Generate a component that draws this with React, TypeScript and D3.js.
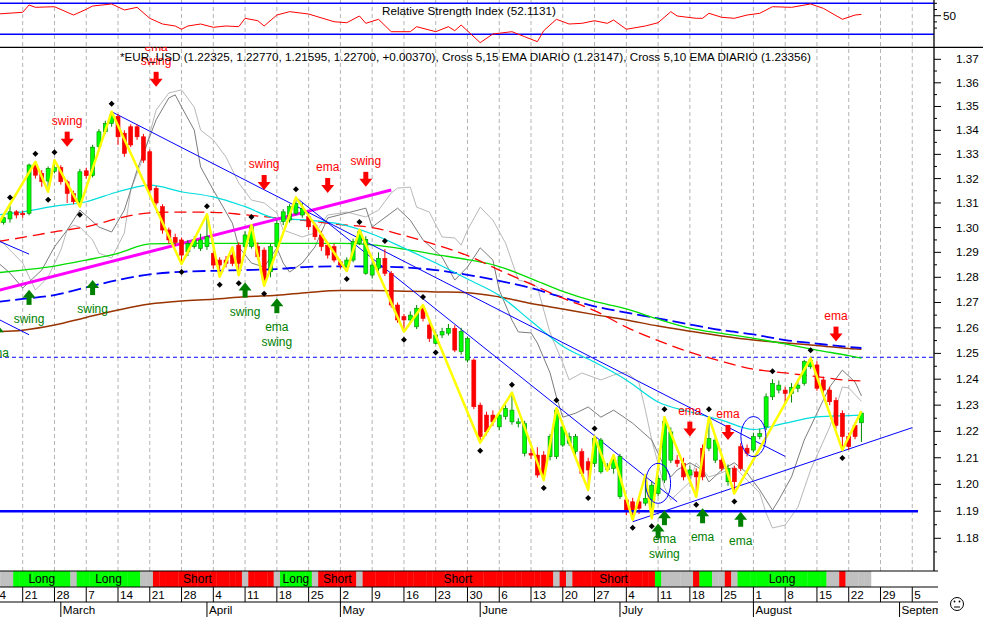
import * as d3 from "d3";

// day 0 = Monday 21 Feb 2005, 5 trading days a week; first candle is day -4
const FIRST_DAY = -4;
const START = new Date(2005, 1, 21);

const opens = [
  1.3035, 1.3020, 1.3035, 1.3064, 1.3058, 1.3058, 1.3256, 1.3221, 1.3190, 1.3230,
  1.3245, 1.3187, 1.3139, 1.3105, 1.3232, 1.3212, 1.3332, 1.3394, 1.3429, 1.3458,
  1.3388, 1.3415, 1.3415, 1.3373, 1.3311, 1.3160, 1.3085, 1.2990, 1.2960, 1.2950,
  1.2902, 1.2923, 1.2916, 1.2923, 1.2896, 1.2869, 1.2869, 1.2889, 1.2929, 1.2923,
  1.2923, 1.2923, 1.2909, 1.2822, 1.2923, 1.3024, 1.3030, 1.3058, 1.3051, 1.3044,
  1.3010, 1.2970, 1.2929, 1.2923, 1.2862, 1.2842, 1.2869, 1.2936, 1.2816, 1.2809,
  1.2836, 1.2876, 1.2816, 1.2690, 1.2644, 1.2631, 1.2604, 1.2677, 1.2611, 1.2539,
  1.2572, 1.2579, 1.2598, 1.2507, 1.2474, 1.2474, 1.2300, 1.2262, 1.2262, 1.2217,
  1.2256, 1.2236, 1.2230, 1.2117, 1.2117, 1.2110, 1.2110, 1.2104, 1.2104, 1.2148,
  1.2155, 1.2123, 1.2123, 1.2085, 1.2079, 1.2047, 1.2055, 1.2060, 1.1954, 1.1942,
  1.1935, 1.1935, 1.1930, 1.1942, 1.1966, 1.2016, 1.2091, 1.2091, 1.2079, 1.2035,
  1.2047, 1.2136, 1.2136, 1.2091, 1.2091, 1.2010, 1.2060, 1.2142, 1.2136, 1.2129,
  1.2180, 1.2217, 1.2332, 1.2358, 1.2358, 1.2345, 1.2365, 1.2384, 1.2448, 1.2455,
  1.2397, 1.2358, 1.2318, 1.2269, 1.2180, 1.2223, 1.22325,
];
const highs = [
  1.3050, 1.3048, 1.3090, 1.3071, 1.3068, 1.3262, 1.3269, 1.3235, 1.3250, 1.3276,
  1.3255, 1.3195, 1.3150, 1.3240, 1.3245, 1.3340, 1.3405, 1.3440, 1.3478, 1.3468,
  1.3400, 1.3425, 1.3425, 1.3385, 1.3320, 1.3170, 1.3095, 1.3000, 1.2975, 1.2960,
  1.2950, 1.2965, 1.2975, 1.3054, 1.2910, 1.2880, 1.2885, 1.2920, 1.2940, 1.2985,
  1.3010, 1.2940, 1.2920, 1.2935, 1.3030, 1.3075, 1.3095, 1.3123, 1.3100, 1.3060,
  1.3020, 1.2985, 1.2940, 1.2935, 1.2870, 1.2880, 1.2955, 1.2990, 1.2965, 1.2860,
  1.2900, 1.2913, 1.2825, 1.2700, 1.2655, 1.2665, 1.2690, 1.2690, 1.2625, 1.2585,
  1.2600, 1.2615, 1.2610, 1.2600, 1.2565, 1.2480, 1.2310, 1.2275, 1.2280, 1.2275,
  1.2300, 1.2348, 1.2250, 1.2240, 1.2135, 1.2140, 1.2125, 1.2190, 1.2288, 1.2230,
  1.2195, 1.2190, 1.2135, 1.2100, 1.2180, 1.2175, 1.2080, 1.2110, 1.2115, 1.1955,
  1.1950, 1.1945, 1.2035, 1.2010, 1.2035, 1.2254, 1.2215, 1.2110, 1.2100, 1.2070,
  1.2060, 1.2150, 1.2254, 1.2180, 1.2100, 1.2075, 1.2070, 1.2155, 1.2150, 1.2195,
  1.2210, 1.2345, 1.2400, 1.2395, 1.2370, 1.2385, 1.2400, 1.2475, 1.2481, 1.2470,
  1.2410, 1.2370, 1.2330, 1.2280, 1.2195, 1.2235, 1.22770,
];
const lows = [
  1.3008, 1.3012, 1.3020, 1.3037, 1.3040, 1.3050, 1.3200, 1.3166, 1.3146, 1.3222,
  1.3175, 1.3100, 1.3095, 1.3085, 1.3200, 1.3205, 1.3320, 1.3385, 1.3415, 1.3339,
  1.3290, 1.3330, 1.3360, 1.3265, 1.3140, 1.3090, 1.2975, 1.2935, 1.2925, 1.2853,
  1.2885, 1.2915, 1.2905, 1.2910, 1.2835, 1.2802, 1.2840, 1.2845, 1.2808, 1.2910,
  1.2915, 1.2870, 1.2766, 1.2800, 1.2910, 1.3010, 1.3020, 1.3050, 1.3040, 1.2990,
  1.2950, 1.2905, 1.2875, 1.2860, 1.2835, 1.2825, 1.2860, 1.2930, 1.2810, 1.2795,
  1.2825, 1.2805, 1.2680, 1.2620, 1.2585, 1.2615, 1.2595, 1.2625, 1.2545, 1.2535,
  1.2560, 1.2570, 1.2505, 1.2495, 1.2465, 1.2285, 1.2157, 1.2185, 1.2220, 1.2205,
  1.2245, 1.2225, 1.2215, 1.2105, 1.2095, 1.2025, 1.2016, 1.2090, 1.2095, 1.2140,
  1.2145, 1.2110, 1.2030, 1.1979, 1.2065, 1.2040, 1.2052, 1.2040, 1.1945, 1.1885,
  1.1868, 1.1890, 1.1920, 1.1874, 1.1955, 1.2005, 1.2080, 1.2065, 1.2015, 1.2020,
  1.1954, 1.2015, 1.2125, 1.2080, 1.2050, 1.1995, 1.1966, 1.2050, 1.2105, 1.2120,
  1.2170, 1.2205, 1.2320, 1.2345, 1.2310, 1.2310, 1.2350, 1.2375, 1.2440, 1.2355,
  1.2345, 1.2300, 1.2210, 1.2129, 1.2130, 1.2170, 1.21595,
];
const closes = [
  1.3020, 1.3040, 1.3064, 1.3051, 1.3052, 1.3256, 1.3214, 1.3187, 1.3242, 1.3245,
  1.3187, 1.3139, 1.3105, 1.3228, 1.3212, 1.3330, 1.3394, 1.3429, 1.3464, 1.3373,
  1.3304, 1.3339, 1.3373, 1.3276, 1.3153, 1.3100, 1.2990, 1.2950, 1.2940, 1.2889,
  1.2936, 1.2950, 1.2950, 1.2963, 1.2849, 1.2849, 1.2856, 1.2856, 1.2856, 1.2970,
  1.3003, 1.2882, 1.2790, 1.2923, 1.3017, 1.3064, 1.3085, 1.3098, 1.3078, 1.3003,
  1.2963, 1.2923, 1.2889, 1.2869, 1.2849, 1.2869, 1.2943, 1.2983, 1.2952, 1.2849,
  1.2876, 1.2816, 1.2690, 1.2631, 1.2631, 1.2650, 1.2677, 1.2637, 1.2559, 1.2572,
  1.2585, 1.2598, 1.2513, 1.2585, 1.2559, 1.2294, 1.2180, 1.2198, 1.2236, 1.2262,
  1.2288, 1.2281, 1.2236, 1.2230, 1.2110, 1.2035, 1.2035, 1.2180, 1.2281, 1.2217,
  1.2180, 1.2180, 1.2041, 1.2054, 1.2173, 1.2167, 1.2065, 1.2091, 1.2104, 1.1898,
  1.1898, 1.1911, 1.1948, 1.1997, 1.2022, 1.2237, 1.2198, 1.2079, 1.2028, 1.2054,
  1.2028, 1.2028, 1.2173, 1.2167, 1.2060, 1.2060, 1.2010, 1.2060, 1.2117, 1.2180,
  1.2192, 1.2332, 1.2384, 1.2377, 1.2345, 1.2368, 1.2377, 1.2468, 1.2474, 1.2365,
  1.2358, 1.2313, 1.2223, 1.2180, 1.2142, 1.2180, 1.22700,
];

// moving averages read at weekly points
const maDays = [-4, 0, 5, 10, 15, 20, 25, 30, 35, 40, 45, 50, 55, 60, 65, 70, 75, 80, 85, 90, 95, 100, 105, 110, 115, 120, 125, 130, 132];
const maCyan = [1.3051, 1.3064, 1.3087, 1.3105, 1.3146, 1.3173, 1.3146, 1.3125, 1.3085, 1.3037, 1.3030, 1.3014, 1.2974, 1.2917, 1.2857, 1.2793, 1.2728, 1.2627, 1.2528, 1.2466, 1.2397, 1.2312, 1.2274, 1.2243, 1.2207, 1.2231, 1.2255, 1.2260, 1.2262];
const maRed = [1.2943, 1.2960, 1.2983, 1.3003, 1.3037, 1.3060, 1.3063, 1.3062, 1.3052, 1.3039, 1.3027, 1.3012, 1.3000, 1.2968, 1.2931, 1.2887, 1.2829, 1.2773, 1.2717, 1.2668, 1.2603, 1.2550, 1.2505, 1.2469, 1.2439, 1.2424, 1.2410, 1.2395, 1.2393];
const maGreen = [1.2818, 1.2829, 1.2845, 1.2869, 1.2896, 1.2934, 1.2936, 1.2936, 1.2936, 1.2936, 1.2936, 1.2936, 1.2930, 1.2913, 1.2891, 1.2871, 1.2843, 1.2795, 1.2744, 1.2704, 1.2675, 1.2634, 1.2599, 1.2578, 1.2559, 1.2537, 1.2513, 1.2491, 1.2481];
const maBlue = [1.2702, 1.2714, 1.2729, 1.2760, 1.2789, 1.2812, 1.2822, 1.2826, 1.2829, 1.2833, 1.2842, 1.2844, 1.2843, 1.2840, 1.2829, 1.2810, 1.2786, 1.2757, 1.2720, 1.2685, 1.2660, 1.2637, 1.2613, 1.2591, 1.2574, 1.2552, 1.2538, 1.2525, 1.2521];
const maBrown = [1.2585, 1.2591, 1.2611, 1.2641, 1.2670, 1.2694, 1.2706, 1.2713, 1.2723, 1.2729, 1.2740, 1.2747, 1.2747, 1.2745, 1.2742, 1.2739, 1.2722, 1.2696, 1.2674, 1.2652, 1.2631, 1.2607, 1.2587, 1.2568, 1.2552, 1.2541, 1.2531, 1.2519, 1.2516];

// Cross 5,10 EMA (dark) and Cross 5,15 EMA (light)
const crossADays = [-4, -2, 0, 3, 5, 7, 9, 12, 14, 16, 18, 21, 23, 24, 25, 27, 28, 30, 33, 34, 36, 38, 40, 41, 42, 44, 46, 48, 54, 55, 59, 61, 63, 66, 68, 70, 72, 74, 75, 77, 78, 80, 81, 83, 84, 85, 87, 89, 91, 93, 96, 99, 101, 102, 103, 105, 107, 108, 110, 112, 114, 116, 118, 119, 121, 123, 125, 127, 129, 131, 132];
const crossAVals = [1.2861, 1.2817, 1.2757, 1.2829, 1.2922, 1.2990, 1.3071, 1.3002, 1.2982, 1.3071, 1.3235, 1.3444, 1.3536, 1.3549, 1.3498, 1.3401, 1.3248, 1.3153, 1.3018, 1.2922, 1.2857, 1.2841, 1.2918, 1.2857, 1.2821, 1.2857, 1.2922, 1.3039, 1.3079, 1.3002, 1.3079, 1.3030, 1.2950, 1.2881, 1.2789, 1.2841, 1.2918, 1.2869, 1.2749, 1.2630, 1.2584, 1.2580, 1.2541, 1.2424, 1.2331, 1.2254, 1.2269, 1.2293, 1.2254, 1.2281, 1.2231, 1.2167, 1.2066, 1.2028, 1.2054, 1.2081, 1.2054, 1.2009, 1.2054, 1.2081, 1.2043, 1.1979, 1.1904, 1.1942, 1.2028, 1.2167, 1.2269, 1.2370, 1.2435, 1.2389, 1.23356];
const crossBDays = [-4, -2, 0, 2, 4, 6, 7, 8, 9, 11, 12, 14, 16, 17, 19, 21, 23, 25, 27, 28, 30, 32, 34, 36, 38, 40, 41, 44, 46, 48, 51, 54, 56, 58, 59, 61, 62, 64, 66, 68, 69, 70, 72, 74, 76, 78, 80, 81, 83, 85, 86, 88, 91, 93, 95, 97, 98, 99, 101, 102, 105, 106, 108, 110, 112, 114, 116, 117, 118, 120, 122, 124, 127, 129, 130, 132];
const crossBVals = [1.2962, 1.2909, 1.2857, 1.2749, 1.2801, 1.2909, 1.2990, 1.3010, 1.3002, 1.2950, 1.2897, 1.2877, 1.2978, 1.3153, 1.3289, 1.3485, 1.3557, 1.3570, 1.3497, 1.3401, 1.3360, 1.3289, 1.3182, 1.3112, 1.3100, 1.3059, 1.2990, 1.2962, 1.2978, 1.3051, 1.3063, 1.3043, 1.3071, 1.3141, 1.3161, 1.3165, 1.3083, 1.3063, 1.2962, 1.2958, 1.2929, 1.2990, 1.3083, 1.3030, 1.2937, 1.2789, 1.2777, 1.2761, 1.2580, 1.2463, 1.2397, 1.2424, 1.2397, 1.2416, 1.2428, 1.2385, 1.2281, 1.2167, 1.1989, 1.1942, 1.2009, 1.2081, 1.2028, 1.2043, 1.2066, 1.2016, 1.1968, 1.1893, 1.1838, 1.1849, 1.1915, 1.2054, 1.2216, 1.2370, 1.2366, 1.23147];

// zigzag pivots (H uses the high, L the low) and swing dots
const zigDays = [-4, 2, 4, 5, 9, 14, 25, 29, 31, 33, 34, 36, 38, 43, 51, 53, 60, 63, 72, 77, 82, 84, 89, 90, 92, 93, 96, 98, 99, 101, 106, 108, 112, 124, 129, 132];
const zigKinds = "LHLHLHLHLHLHLHLHLHLHLHLHLHLHLHLHLHLH";
const highDots = [-2, 2, 5, 14, 29, 36, 43, 53, 57, 63, 77, 84, 90, 101, 108, 118, 124];
const lowDots = [4, 9, 25, 31, 34, 38, 51, 60, 65, 72, 82, 89, 96, 99, 106, 112, 129];

// signal arrows: tip price
const sellDays = [7, 21, 38, 48, 54, 105, 111, 128];
const sellTips = [1.3332, 1.3583, 1.3153, 1.3141, 1.3166, 1.2180, 1.2167, 1.2546];
const sellLabels = [["swing"], ["ema", "swing"], ["swing"], ["ema"], ["swing"], ["ema"], ["ema"], ["ema"]];
const buyDays = [-4, 1, 11, 35, 40, 101, 100, 107, 113];
const buyTips = [1.2614, 1.2750, 1.2789, 1.2779, 1.2717, 1.1904, 1.1855, 1.1911, 1.1898];
const buyLabels = [["ema"], ["swing"], ["swing"], ["swing"], ["ema", "swing"], ["ema", "swing"], [], ["ema"], ["ema"]];

// hand drawn studies: [day, price] end points
const magentaLine = [[-4, 1.2747], [58, 1.3153]];
const blueLines = [
  [[14, 1.3478], [120, 1.2105]],
  [[43, 1.3123], [103, 1.1935]],
  [[96, 1.1861], [140, 1.2214]],
  [[-4, 1.2948], [1, 1.2893]],
  [[-4, 1.2636], [1, 1.2573]],
];
const supportLevel = 1.19;
const dashedLevel = 1.2485;
const circleDays = [100, 115];
const circlePrices = [1.2004, 1.2180];

// Long / Short system bar, run lengths from day -4
const signalRuns: [string, number][] = [
  ["N", 3], ["L", 9], ["N", 1], ["L", 10], ["N", 2], ["S", 14], ["N", 1], ["S", 4], ["N", 1], ["L", 5],
  ["N", 1], ["S", 6], ["N", 1], ["S", 30], ["N", 1], ["S", 1], ["N", 1], ["S", 13], ["L", 1], ["N", 5],
  ["S", 1], ["L", 2], ["N", 2], ["S", 1], ["N", 1], ["L", 14], ["N", 2], ["S", 1], ["N", 4],
];

// RSI
const rsiDays = [-4, 0, 1, 2, 5, 8, 10, 11, 14, 16, 18, 20, 22, 24, 25, 26, 28, 30, 32, 34, 35, 37, 38, 40, 42, 45, 49, 51, 53, 54, 56, 58, 61, 62, 65, 67, 68, 69, 72, 74, 77, 79, 81, 82, 84, 86, 88, 90, 92, 93, 95, 98, 100, 102, 103, 106, 107, 108, 110, 112, 114, 116, 118, 121, 124, 126, 129, 131, 132];
const rsiVals = [52.7, 55.5, 67.3, 63.5, 64.5, 51.1, 60.3, 65.6, 68.9, 59.2, 63.5, 45.8, 36.6, 33.4, 28.1, 33.4, 36.6, 31.3, 33.4, 32.3, 45.8, 41.9, 33.4, 51.1, 56.5, 52.7, 40.3, 38.7, 49.5, 37.7, 44.2, 24.2, 24.2, 32.3, 24.2, 32.3, 25.8, 35.0, 6.5, 20.5, 24.2, 16.1, 8.1, 25.8, 44.2, 36.6, 37.7, 41.9, 37.7, 43.0, 28.1, 33.4, 38.7, 56.5, 49.5, 45.8, 45.8, 53.9, 47.4, 45.8, 51.1, 53.9, 64.5, 63.5, 68.9, 61.9, 44.2, 51.1, 52.11];
const rsiLevels = [70, 20];

const titleText =
  "*EUR_USD (1.22325, 1.22770, 1.21595, 1.22700, +0.00370), Cross 5,15 EMA DIARIO (1.23147), Cross 5,10 EMA DIARIO (1.23356)";

const FONT = "'Liberation Sans', Arial, sans-serif";

export default function App() {
  const W = 983, H = 617;
  const axisX = 934;
  const mainTop = 47.3, mainBottom = 571;
  const barTop = 571, barBottom = 587, dateBottom = 602;
  const dayW = 6.354;

  const x = d3.scaleLinear().domain([0, 140]).range([22.7, 22.7 + 140 * dayW]);
  const y = d3.scaleLog().domain([1.18, 1.37]).range([538.3, 59.3]);
  const ry = d3.scaleLinear().domain([50, 70]).range([15.7, 3.3]);

  const dayToDate = (d: number) =>
    d3.timeDay.offset(START, Math.floor(d / 5) * 7 + (((d % 5) + 5) % 5));

  const maLine = d3.line<number>().x((_, k) => x(maDays[k])).y((v) => y(v)).curve(d3.curveMonotoneX);
  const seriesLine = (days: number[]) =>
    d3.line<number>().x((_, k) => x(days[k])).y((v) => y(v)).curve(d3.curveLinear);
  const rsiLine = d3.line<number>().x((_, k) => x(rsiDays[k])).y((v) => ry(v));
  const zigLine = d3.line<number>().x((d) => x(d)).y((d, k) => y(zigKinds[k] === "H" ? highs[d - FIRST_DAY] : lows[d - FIRST_DAY]));

  const weekDays = d3.range(-5, 141, 5);

  const signals: string[] = [];
  signalRuns.forEach(([s, n]) => { for (let k = 0; k < n; k++) signals.push(s); });
  const runs: { s: string; start: number; end: number }[] = [];
  let pos = FIRST_DAY;
  signalRuns.forEach(([s, n]) => { runs.push({ s, start: pos, end: pos + n - 1 }); pos += n; });

  const monthStarts: number[] = [];
  for (let d = -4; d <= 141; d++) {
    if (dayToDate(d).getMonth() !== dayToDate(d - 1).getMonth()) monthStarts.push(d);
  }

  const yTicks = d3.range(118, 138).map((v) => v / 100);
  const yMinor = d3.range(118, 138).map((v) => v / 100 - 0.005);
  const sigColor: Record<string, string> = { L: "#00ff00", S: "#ff0000", N: "#c0c0c0" };

  return (
    <svg width={W} height={H} style={{ display: "block", background: "#fff", fontFamily: FONT }}>
      <style>{"body{margin:0}"}</style>
      <defs>
        <clipPath id="mainClip"><rect x={0} y={mainTop} width={axisX} height={mainBottom - mainTop} /></clipPath>
        <clipPath id="rsiClip"><rect x={0} y={0} width={axisX} height={mainTop} /></clipPath>
        <clipPath id="dateClip"><rect x={0} y={barBottom} width={axisX + 4} height={H - barBottom} /></clipPath>
      </defs>

      {/* weekly grid */}
      {weekDays.map((d) => (
        <line key={"g" + d} x1={x(d)} x2={x(d)} y1={0} y2={mainBottom} stroke="#b4b4b4" strokeDasharray="4,3" />
      ))}

      {/* RSI panel */}
      <g clipPath="url(#rsiClip)">
        {rsiLevels.map((v) => (
          <line key={v} x1={0} x2={axisX} y1={ry(v)} y2={ry(v)} stroke="#0000ff" strokeWidth={1.5} />
        ))}
        <path d={rsiLine(rsiVals) || ""} fill="none" stroke="#ff0000" strokeWidth={1} />
        <text x={469} y={15} textAnchor="middle" fontSize={11.7} fill="#000">
          Relative Strength Index (52.1131)
        </text>
      </g>
      {[30, 40, 50, 60, 70].map((v) => (
        <line key={"rt" + v} x1={axisX} x2={axisX + (v === 50 ? 7 : 3)} y1={ry(v)} y2={ry(v)} stroke="#000" />
      ))}
      <text x={943} y={ry(50) + 4} fontSize={11.7}>50</text>
      <line x1={0} x2={W} y1={mainTop} y2={mainTop} stroke="#000" strokeWidth={1.3} />

      {/* main price panel */}
      <g clipPath="url(#mainClip)">
        <line x1={x(-5)} x2={axisX} y1={y(dashedLevel)} y2={y(dashedLevel)} stroke="#0000ff" strokeWidth={1.2} strokeDasharray="4,3" />
        <path d={seriesLine(crossBDays)(crossBVals) || ""} fill="none" stroke="#b8b8b8" strokeWidth={1} />
        <path d={seriesLine(crossADays)(crossAVals) || ""} fill="none" stroke="#7c7c7c" strokeWidth={1} />
        <path d={maLine(maBrown) || ""} fill="none" stroke="#993300" strokeWidth={1.5} />
        <path d={maLine(maBlue) || ""} fill="none" stroke="#0000ff" strokeWidth={1.8} strokeDasharray="13,5" />
        <path d={maLine(maGreen) || ""} fill="none" stroke="#00dd00" strokeWidth={1.3} />
        <path d={maLine(maRed) || ""} fill="none" stroke="#ff0000" strokeWidth={1.3} strokeDasharray="12,6" />
        <path d={maLine(maCyan) || ""} fill="none" stroke="#00dddd" strokeWidth={1.2} />

        <line x1={x(magentaLine[0][0])} y1={y(magentaLine[0][1])} x2={x(magentaLine[1][0])} y2={y(magentaLine[1][1])} stroke="#ff00ff" strokeWidth={3} />
        {blueLines.map((l, k) => (
          <line key={"bl" + k} x1={x(l[0][0])} y1={y(l[0][1])} x2={x(l[1][0])} y2={y(l[1][1])} stroke="#0000ff" strokeWidth={1} />
        ))}

        {/* candles */}
        {opens.map((o, k) => {
          const d = FIRST_DAY + k;
          const c = closes[k];
          const up = c >= o;
          const cx = x(d);
          const top = y(Math.max(o, c));
          const bot = y(Math.min(o, c));
          return (
            <g key={"c" + d}>
              <line x1={cx} x2={cx} y1={y(highs[k])} y2={y(lows[k])} stroke={up ? "#008800" : "#ff0000"} strokeWidth={1} />
              <rect x={cx - 2} y={top} width={4} height={Math.max(1, bot - top)}
                fill={up ? "#00ff00" : "#ff0000"} stroke={up ? "#008800" : "#ee0000"} strokeWidth={0.6} />
            </g>
          );
        })}

        <line x1={x(-5)} x2={918} y1={y(supportLevel)} y2={y(supportLevel)} stroke="#0000ff" strokeWidth={2.5} />

        <path d={zigLine(zigDays) || ""} fill="none" stroke="#ffff00" strokeWidth={2.5} strokeLinejoin="round" />

        {highDots.map((d) => {
          const cx = x(d), cy = y(highs[d - FIRST_DAY]) - 8;
          return <path key={"hd" + d} d={`M${cx},${cy - 3}L${cx + 3},${cy}L${cx},${cy + 3}L${cx - 3},${cy}Z`} fill="#000" />;
        })}
        {lowDots.map((d) => {
          const cx = x(d), cy = y(lows[d - FIRST_DAY]) + 8;
          return <path key={"ld" + d} d={`M${cx},${cy - 3}L${cx + 3},${cy}L${cx},${cy + 3}L${cx - 3},${cy}Z`} fill="#000" />;
        })}

        {circleDays.map((d, k) => (
          <ellipse key={"el" + d} cx={x(d)} cy={y(circlePrices[k])} rx={12.5} ry={20} fill="none" stroke="#0000ff" strokeWidth={1} />
        ))}

        {sellDays.map((d, k) => {
          const cx = x(d), ty = y(sellTips[k]);
          const labels = sellLabels[k];
          return (
            <g key={"s" + d} fill="#ff0000">
              <rect x={cx - 2.5} y={ty - 15} width={5} height={8} />
              <path d={`M${cx - 6.5},${ty - 8}L${cx + 6.5},${ty - 8}L${cx},${ty}Z`} />
              {labels.map((t, j) => (
                <text key={t} x={cx} y={ty - 22 - (labels.length - 1 - j) * 14} textAnchor="middle" fontSize={12}>{t}</text>
              ))}
            </g>
          );
        })}
        {buyDays.map((d, k) => {
          const cx = x(d), ty = y(buyTips[k]);
          return (
            <g key={"b" + k} fill="#008000">
              <rect x={cx - 2.5} y={ty + 7} width={5} height={8} />
              <path d={`M${cx - 6.5},${ty + 8}L${cx + 6.5},${ty + 8}L${cx},${ty}Z`} />
              {buyLabels[k].map((t, j) => (
                <text key={t} x={cx} y={ty + 33 + j * 14.5} textAnchor="middle" fontSize={12}>{t}</text>
              ))}
            </g>
          );
        })}

        <text x={120} y={61} fontSize={11.7} fill="#000">{titleText}</text>
      </g>

      {/* price axis */}
      <line x1={axisX} x2={axisX} y1={0} y2={barTop} stroke="#000" strokeWidth={1.3} />
      {yTicks.map((v) => (
        <g key={"yt" + v}>
          <line x1={axisX} x2={axisX + 7} y1={y(v)} y2={y(v)} stroke="#000" />
          <text x={956} y={y(v) + 4} fontSize={11.7}>{v.toFixed(2)}</text>
        </g>
      ))}
      {yMinor.map((v) => (
        <line key={"ym" + v} x1={axisX} x2={axisX + 3} y1={y(v)} y2={y(v)} stroke="#000" />
      ))}

      {/* signal bar */}
      {signals.map((s, k) => {
        const d = FIRST_DAY + k;
        return <rect key={"sg" + d} x={x(d) - dayW / 2} y={barTop} width={dayW + 0.3} height={barBottom - barTop} fill={sigColor[s]} />;
      })}
      {runs.filter((r) => r.s !== "N" && r.end - r.start >= 4).map((r) => (
        <text key={"rt" + r.start} x={(x(r.start) + x(r.end)) / 2} y={583} textAnchor="middle" fontSize={12} fill="#000">
          {r.s === "L" ? "Long" : "Short"}
        </text>
      ))}
      <line x1={0} x2={axisX + 4} y1={barTop} y2={barTop} stroke="#000" />
      <line x1={0} x2={axisX + 4} y1={barBottom} y2={barBottom} stroke="#000" />
      <line x1={0} x2={axisX + 4} y1={dateBottom} y2={dateBottom} stroke="#000" />

      {/* date axis */}
      <g clipPath="url(#dateClip)">
        {weekDays.map((d) => (
          <g key={"wd" + d}>
            <line x1={x(d)} x2={x(d)} y1={barBottom} y2={dateBottom} stroke="#000" />
            <text x={x(d) + 2} y={599} fontSize={11.7}>{dayToDate(d).getDate()}</text>
          </g>
        ))}
        {monthStarts.map((d) => (
          <g key={"ms" + d}>
            <line x1={x(d)} x2={x(d)} y1={dateBottom} y2={H} stroke="#000" />
            <text x={x(d) + 2} y={614} fontSize={11.7}>{d3.timeFormat("%B")(dayToDate(d))}</text>
          </g>
        ))}
      </g>

      {/* status face */}
      <g fill="none" stroke="#000" strokeWidth={1}>
        <circle cx={957} cy={604} r={6.5} />
        <line x1={954} x2={960} y1={607} y2={607} />
      </g>
      <circle cx={954.5} cy={601.5} r={0.9} fill="#000" />
      <circle cx={959.5} cy={601.5} r={0.9} fill="#000" />
    </svg>
  );
}
